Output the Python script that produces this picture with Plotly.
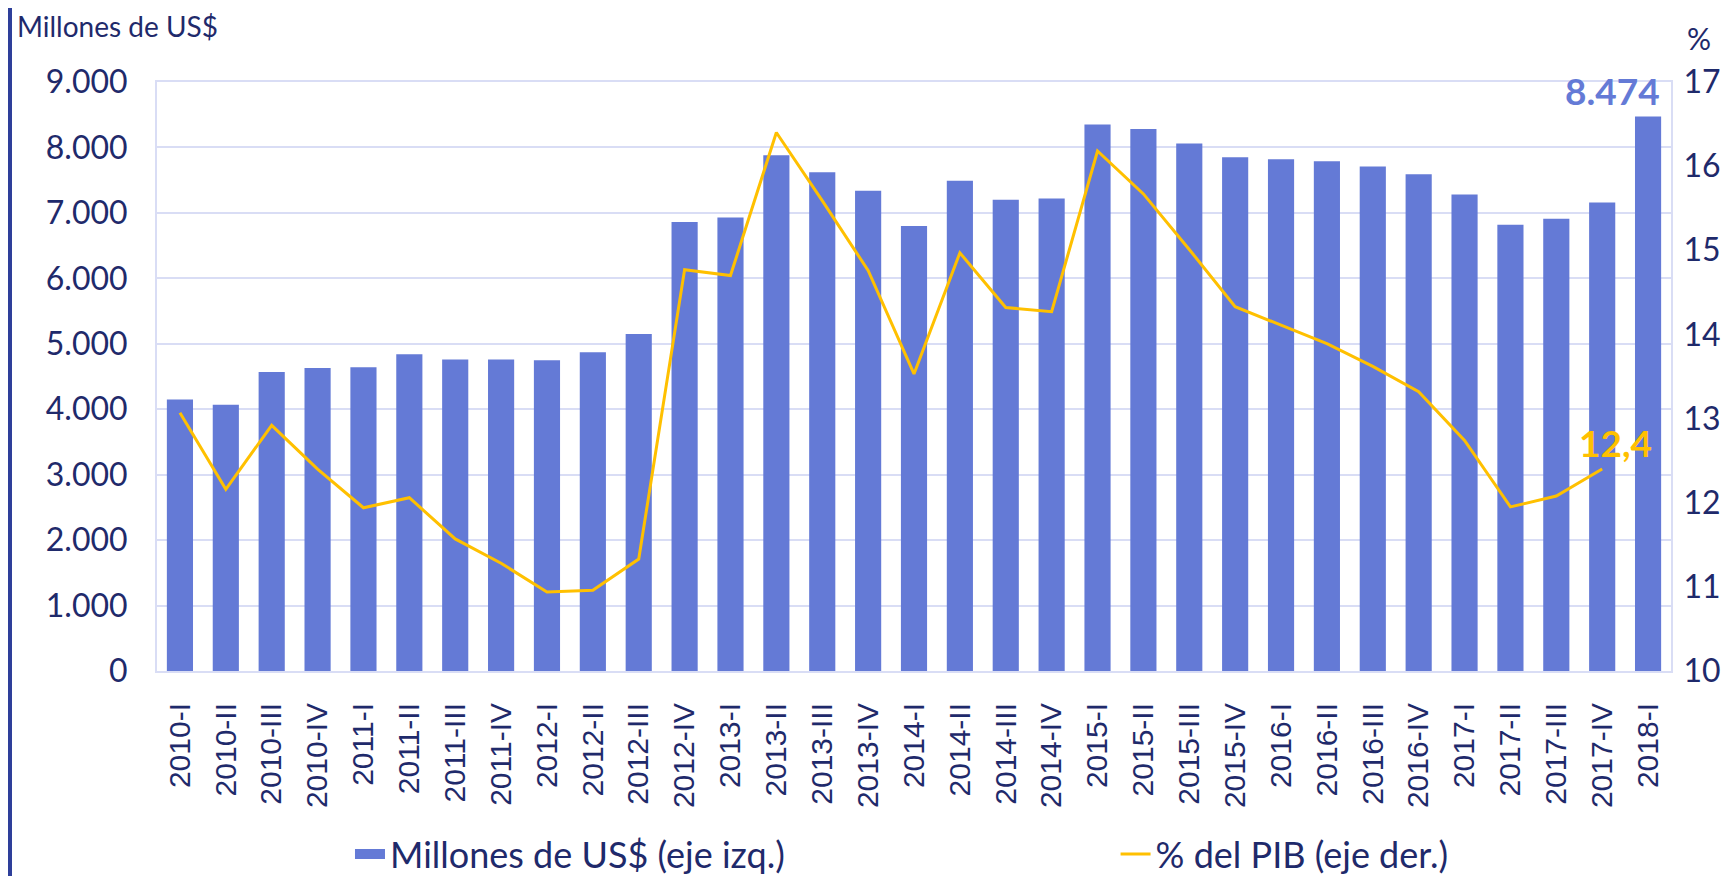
import plotly.graph_objects as go

categories = ["2010-I","2010-II","2010-III","2010-IV","2011-I","2011-II","2011-III","2011-IV",
              "2012-I","2012-II","2012-III","2012-IV","2013-I","2013-II","2013-III","2013-IV",
              "2014-I","2014-II","2014-III","2014-IV","2015-I","2015-II","2015-III","2015-IV",
              "2016-I","2016-II","2016-III","2016-IV","2017-I","2017-II","2017-III","2017-IV","2018-I"]
millones_usd = [4150, 4070, 4570, 4630, 4640, 4840, 4760, 4760,
                4750, 4870, 5150, 6860, 6930, 7880, 7620, 7340,
                6800, 7490, 7200, 7220, 8350, 8280, 8060, 7850,
                7820, 7790, 7710, 7590, 7280, 6820, 6910, 7160, 8474]
pct_pib = [13.07, 12.16, 12.92, 12.40, 11.94, 12.06, 11.57, 11.28,
           10.94, 10.96, 11.33, 14.77, 14.70, 16.40, 15.59, 14.76,
           13.53, 14.97, 14.32, 14.27, 16.18, 15.67, 15.01, 14.33,
           14.11, 13.89, 13.62, 13.32, 12.74, 11.95, 12.08, 12.40, None]

BAR = "#647AD6"
LINE = "#FFC000"
TXT = "#1F2A6B"
GRID = "#D9DDF5"
FONT = "Lato"

W, H = 1736, 876
ML, MR, MT, MB = 149, 73, 74, 213
PW, PH = W - ML - MR, H - MT - MB

def px(x):
    return (x - ML) / PW

def py(y):
    return 1 + (MT - y) / PH

fig = go.Figure()
fig.add_trace(go.Bar(x=categories, y=millones_usd, name="Millones de US$ (eje izq.)",
                     marker=dict(color=BAR, line=dict(width=0)), yaxis="y", showlegend=False))
fig.add_trace(go.Scatter(x=[None], y=[None], name="Millones de US$ (eje izq.)", mode="lines",
                         line=dict(color=BAR, width=22), showlegend=True, legend="legend"))
fig.add_trace(go.Scatter(x=categories, y=pct_pib, name="% del PIB (eje der.)", mode="lines",
                         line=dict(color=LINE, width=3), yaxis="y2", connectgaps=False,
                         showlegend=True, legend="legend2"))

legend_common = dict(orientation="h", xref="container", yref="container", xanchor="left",
                     y=0.034, yanchor="middle", font=dict(size=36, color=TXT, family=FONT),
                     itemwidth=30, bgcolor="rgba(0,0,0,0)")

fig.update_layout(
    width=W, height=H,
    margin=dict(l=ML, r=MR, t=MT, b=MB, autoexpand=False),
    plot_bgcolor="white", paper_bgcolor="white",
    separators=",.",
    bargap=0.43,
    font=dict(family=FONT, color=TXT),
    showlegend=True,
    legend=dict(x=0.197, **legend_common),
    legend2=dict(x=0.638, **legend_common),
    xaxis=dict(type="category", tickangle=-90, tickfont=dict(size=30, family="Liberation Sans", color=TXT),
               showline=True, linecolor=GRID, linewidth=2, mirror=True, showgrid=False,
               ticks="outside", ticklen=18, tickcolor="rgba(0,0,0,0)", automargin=False),
    yaxis=dict(range=[0, 9000], dtick=1000, tickformat=",d", tickfont=dict(size=32, color=TXT),
               showgrid=True, gridcolor=GRID, gridwidth=2, showline=True, linecolor=GRID, linewidth=2,
               mirror=True, zeroline=False, ticks="outside", ticklen=21, tickcolor="rgba(0,0,0,0)",
               automargin=False),
    yaxis2=dict(range=[10, 17], dtick=1, overlaying="y", side="right", tickfont=dict(size=32, color=TXT),
                showgrid=False, zeroline=False, ticks="outside", ticklen=5, tickcolor="rgba(0,0,0,0)",
                automargin=False),
    annotations=[
        dict(text="Millones de US$", xref="paper", yref="paper", x=px(7), y=py(18), xanchor="left",
             yanchor="middle", showarrow=False, font=dict(size=28, color=TXT, family=FONT)),
        dict(text="%", xref="paper", yref="paper", x=px(1691), y=py(30), xanchor="center",
             yanchor="middle", showarrow=False, font=dict(size=30, color=TXT, family=FONT)),
        dict(text="<b>8.474</b>", xref="paper", yref="y", x=1.0, y=millones_usd[-1], xanchor="right",
             yanchor="bottom", xshift=-9, yshift=1, showarrow=False, font=dict(size=37, color=BAR, family=FONT)),
        dict(text="<b>12,4</b>", xref="x", yref="y2", x=categories[-2], y=pct_pib[-2], xanchor="left",
             yanchor="bottom", xshift=-25, yshift=2, showarrow=False, font=dict(size=37, color=LINE, family=FONT)),
    ],
    shapes=[
        dict(type="line", xref="paper", yref="paper", x0=px(2), x1=px(2), y0=py(H), y1=py(0),
             line=dict(color="#2E3F9A", width=4)),
    ],
)

fig.write_html("out.html")
